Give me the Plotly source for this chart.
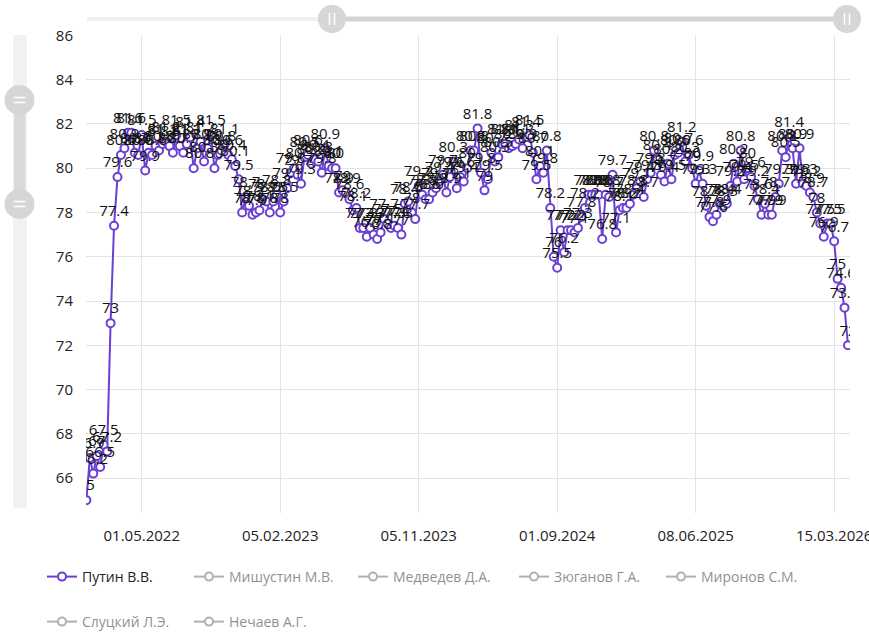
import datetime as dt
import plotly.graph_objects as go

# ---------------- data ----------------
tick_labels = ["01.05.2022", "05.02.2023", "05.11.2023", "01.09.2024", "08.06.2025", "15.03.2026"]
tick_index = [16, 56, 96, 136, 176, 216]
first_date = "09.01.2022"
last_date = "12.04.2026"

putin = [
    65.0, 66.9, 66.2, 67.0, 66.5, 67.5, 67.2, 73.0, 77.4, 79.6,
    80.6, 80.9, 81.6, 81.6, 80.7, 80.6, 81.5, 79.9, 80.7, 80.6,
    81.0, 80.8, 81.1, 81.2, 81.0, 80.7, 81.5, 81.0, 80.7, 81.1,
    81.4, 80.0, 80.9, 81.2, 80.3, 80.9, 81.5, 80.0, 80.6, 80.8,
    81.1, 80.6, 80.4, 80.1, 79.5, 78.0, 78.7, 78.3, 77.9, 78.0,
    78.1, 78.6, 78.5, 78.0, 78.5, 78.8, 78.0, 78.5, 79.1, 79.8,
    80.0, 79.7, 79.3, 80.5, 80.6, 80.2, 80.4, 80.3, 79.8, 80.9,
    80.1, 80.0, 80.0, 78.9, 79.0, 78.9, 78.6, 78.1, 78.2, 77.3,
    77.3, 76.9, 77.3, 77.0, 76.8, 77.1, 77.7, 77.5, 77.3, 77.4,
    77.3, 77.0, 78.4, 78.5, 78.0, 77.7, 79.2, 78.8, 78.6, 78.6,
    78.9, 79.1, 79.4, 79.7, 78.9, 79.6, 80.3, 79.1, 79.6, 79.4,
    80.0, 80.8, 80.8, 81.8, 79.8, 79.0, 79.5, 80.7, 80.3, 80.5,
    81.1, 81.1, 80.9, 81.0, 81.1, 81.3, 80.9, 81.4, 81.5, 80.7,
    79.5, 80.1, 79.8, 80.8, 78.2, 76.0, 75.5, 77.2, 76.2, 77.2,
    77.2, 77.1, 77.3, 77.8, 78.2, 78.8, 78.8, 78.8, 78.8, 76.8,
    78.8, 78.7, 79.7, 77.1, 78.1, 78.2, 78.2, 78.4, 78.8, 79.1,
    79.4, 78.7, 79.5, 79.8, 80.8, 80.4, 79.7, 79.4, 80.2, 79.5,
    80.6, 80.7, 81.2, 80.3, 80.6, 80.0, 79.3, 79.9, 79.3, 78.3,
    77.8, 77.6, 77.9, 78.4, 78.3, 78.4, 79.2, 80.2, 79.4, 80.8,
    79.5, 80.0, 79.6, 79.2, 78.6, 77.9, 78.4, 77.9, 77.9, 78.7,
    79.3, 80.8, 80.5, 81.4, 80.9, 79.3, 80.9, 79.3, 79.2, 78.9,
    78.7, 78.0, 77.5, 76.9, 77.5, 77.5, 76.7, 75.0, 74.6, 73.7,
    72.0,
]

series_names = ["Путин В.В.", "Мишустин М.В.", "Медведев Д.А.", "Зюганов Г.А.",
                "Миронов С.М.", "Слуцкий Л.Э.", "Нечаев А.Г."]

y_ticks = [66, 68, 70, 72, 74, 76, 78, 80, 82, 84, 86]

# ------------- category labels (survey dates) -------------
def parse(s):
    return dt.datetime.strptime(s, "%d.%m.%Y").date()

anchors = [(0, parse(first_date))] + [(i, parse(s)) for i, s in zip(tick_index, tick_labels)] \
          + [(len(putin) - 1, parse(last_date))]
dates = []
for (ia, da), (ib, db) in zip(anchors[:-1], anchors[1:]):
    span = (db - da).days
    for k in range(ib - ia):
        dates.append((da + dt.timedelta(days=round(k * span / (ib - ia)))).strftime("%d.%m.%Y"))
dates.append(anchors[-1][1].strftime("%d.%m.%Y"))

# ---------------- figure ----------------
W, H = 869, 632
L, R, T, B = 86, 19, 35, 119
PW, PH = W - L - R, H - T - B
PURPLE = "#6a40d4"
FONT = "Open Sans"

def fx(px):
    return (px - L) / PW

def fy(py):
    return (H - B - py) / PH

# legend entry placement (pixel x of entry, pixel y of row centre)
legend_pos = [(42, 577), (189, 577), (353, 577), (514, 577), (661, 577), (42, 622), (189, 622)]

fig = go.Figure()
fig.add_trace(go.Scatter(
    x=dates, y=putin, name=series_names[0], mode="lines+markers+text",
    text=[f"{v:g}" for v in putin], textposition="top center",
    textfont=dict(family=FONT, size=15, color="#111"),
    line=dict(color=PURPLE, width=2),
    marker=dict(size=8, color="white", line=dict(color=PURPLE, width=2)),
    cliponaxis=True, legend="legend", showlegend=True,
))
# other series are switched off in the legend (no values shown in the chart)
for k, nm in enumerate(series_names[1:], start=1):
    fig.add_trace(go.Scatter(
        x=dates, y=[None] * len(dates), name=nm, mode="lines+markers", visible="legendonly",
        line=dict(color="#666", width=2),
        marker=dict(size=8, color="white", line=dict(color="#666", width=2)),
        legend=f"legend{k + 1}", showlegend=True,
    ))

shapes = []
# vertical dataZoom slider (left)
shapes.append(dict(type="rect", xref="paper", yref="paper", x0=fx(13), x1=fx(27), y0=fy(35), y1=fy(508),
                   fillcolor="#f2f2f2", line=dict(width=0), layer="below"))
shapes.append(dict(type="rect", xref="paper", yref="paper", x0=fx(14), x1=fx(25.5), y0=fy(100), y1=fy(204),
                   fillcolor="#d9d9d9", line=dict(width=0)))
# horizontal dataZoom slider (top)
shapes.append(dict(type="rect", xref="paper", yref="paper", x0=fx(87), x1=fx(848), y0=fy(17), y1=fy(21),
                   fillcolor="#efefef", line=dict(width=0)))
shapes.append(dict(type="rect", xref="paper", yref="paper", x0=fx(332), x1=fx(848), y0=fy(16.5), y1=fy(21.5),
                   fillcolor="#d4d4d4", line=dict(width=0)))
# handles
for cx, cy, r, orient in [(19.5, 100, 15, "h"), (19.5, 204, 15, "h"), (332, 19, 14, "v"), (847, 19, 14, "v")]:
    shapes.append(dict(type="circle", xref="paper", yref="paper", x0=fx(cx - r), x1=fx(cx + r),
                       y0=fy(cy + r), y1=fy(cy - r), fillcolor="#d6d6d6", line=dict(width=0)))
    for d in (-2.5, 2.5):
        if orient == "h":
            shapes.append(dict(type="line", xref="paper", yref="paper", x0=fx(cx - 6), x1=fx(cx + 6),
                               y0=fy(cy + d), y1=fy(cy + d), line=dict(color="white", width=1.5)))
        else:
            shapes.append(dict(type="line", xref="paper", yref="paper", x0=fx(cx + d), x1=fx(cx + d),
                               y0=fy(cy - 6), y1=fy(cy + 6), line=dict(color="white", width=1.5)))

legends = {}
for k, (px, py) in enumerate(legend_pos):
    key = "legend" if k == 0 else f"legend{k + 1}"
    legends[key] = dict(orientation="h", x=fx(px), y=fy(py), xanchor="left", yanchor="middle",
                        font=dict(family=FONT, size=14, color="#222"), bgcolor="rgba(0,0,0,0)")

fig.update_layout(
    width=W, height=H, margin=dict(l=L, r=R, t=T, b=B, autoexpand=False),
    paper_bgcolor="white", plot_bgcolor="white",
    font=dict(family=FONT, size=15, color="#222"),
    shapes=shapes, showlegend=True,
    xaxis=dict(type="category", range=[-0.1, len(putin) - 1 + 0.58],
               tickvals=tick_labels, ticktext=tick_labels,
               showgrid=True, gridcolor="#e4e4e4", gridwidth=1,
               showline=False, zeroline=False, ticks="", ticklabelstandoff=12,
               tickfont=dict(family=FONT, size=15, color="#222")),
    yaxis=dict(range=[64.42, 86.02], tickvals=y_ticks,
               showgrid=True, gridcolor="#e4e4e4", gridwidth=1,
               showline=False, zeroline=False, ticks="", ticklabelstandoff=12,
               tickfont=dict(family=FONT, size=15, color="#222")),
    **legends,
)

fig.write_html("out.html", config={"displayModeBar": False},
               post_script="document.body.style.margin='0';")
